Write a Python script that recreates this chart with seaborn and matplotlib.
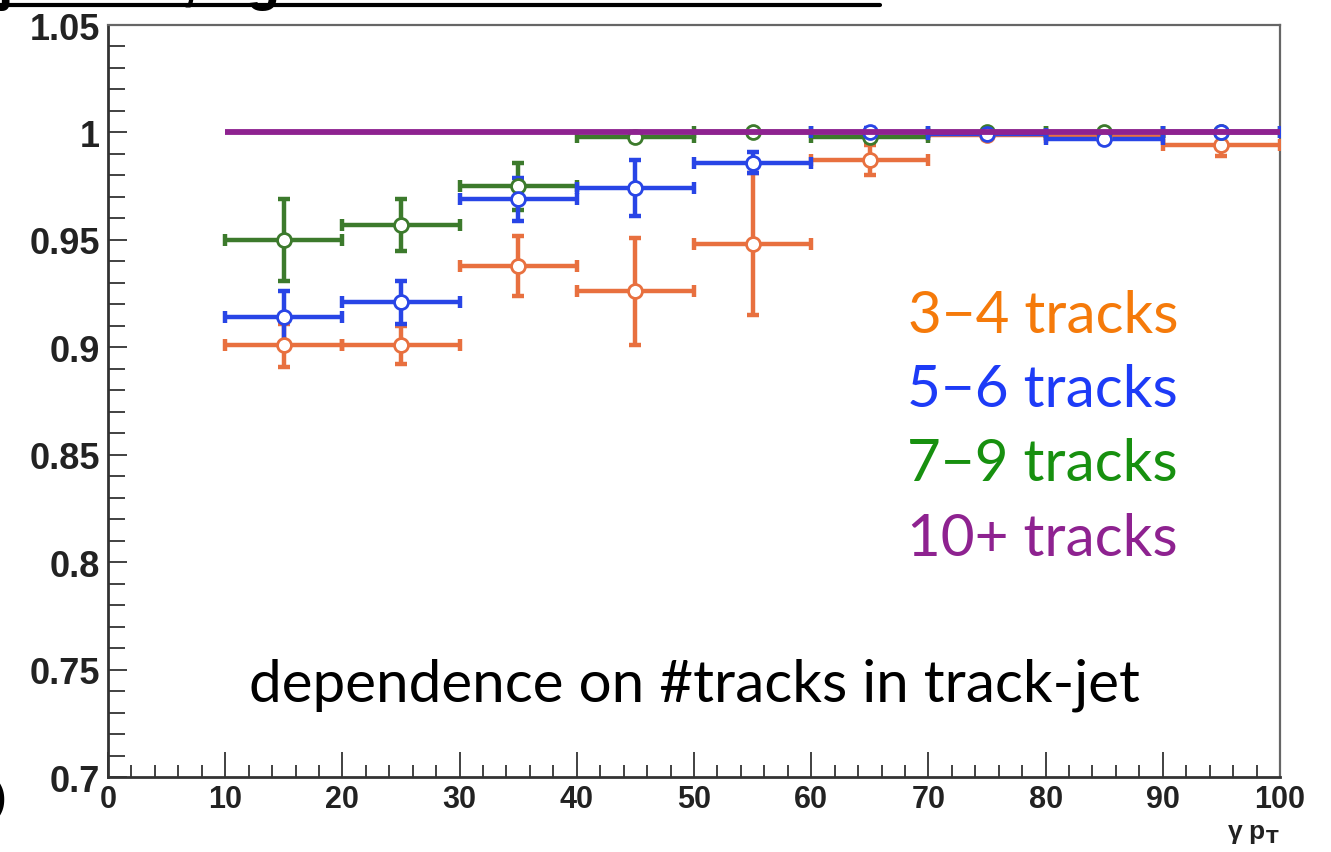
import numpy as np
import pandas as pd
import matplotlib
matplotlib.use("Agg")
import matplotlib.pyplot as plt
import seaborn as sns
from matplotlib.ticker import MultipleLocator, FixedLocator

# photon pT bin centres and half-widths (bins of 10 GeV)
pt_centers = [15, 25, 35, 45, 55, 65, 75, 85, 95]
pt_halfwidth = [5, 5, 5, 5, 5, 5, 5, 5, 5]

# efficiency vs photon pT for each track multiplicity class
eff_3_4 = [0.901, 0.901, 0.938, 0.926, 0.948, 0.987, 0.999, 0.998, 0.994]
err_3_4 = [0.010, 0.009, 0.014, 0.025, 0.033, 0.007, 0.002, 0.002, 0.005]

eff_5_6 = [0.914, 0.921, 0.969, 0.974, 0.986, 1.000, 0.9995, 0.997, 1.000]
err_5_6 = [0.012, 0.010, 0.010, 0.013, 0.005, 0.002, 0.001, 0.002, 0.001]

eff_7_9 = [0.950, 0.957, 0.975, 0.998, 1.000, 0.998, 1.000, 1.000, 1.000]
err_7_9 = [0.019, 0.012, 0.011, 0.002, 0.001, 0.002, 0.001, 0.001, 0.001]

eff_10p = [1.0, 1.0, 1.0, 1.0, 1.0, 1.0, 1.0, 1.0, 1.0]

series_labels = ["3\u22124 tracks", "5\u22126 tracks", "7\u22129 tracks", "10+ tracks"]
mark_colors = ["#E8703F", "#2845E6", "#3C7A2C", "#8E2290"]
text_colors = ["#F57A0A", "#1D3BF7", "#17900F", "#8E2290"]

y_ticks = [0.7, 0.75, 0.8, 0.85, 0.9, 0.95, 1.0, 1.05]
y_ticklabels = ["0.7", "0.75", "0.8", "0.85", "0.9", "0.95", "1", "1.05"]
x_ticks = [0, 10, 20, 30, 40, 50, 60, 70, 80, 90, 100]

sns.set_theme(style="white")
plt.rcParams["font.family"] = ["Liberation Sans", "DejaVu Sans"]

fig = plt.figure(figsize=(13.31, 8.53), dpi=100)
ax = fig.add_axes([108 / 1331, 1 - 778 / 853, (1280 - 108) / 1331, (778 - 26) / 853])

frames = []
for lab, eff, err in [(series_labels[0], eff_3_4, err_3_4),
                      (series_labels[1], eff_5_6, err_5_6),
                      (series_labels[2], eff_7_9, err_7_9)]:
    frames.append(pd.DataFrame({"pt": pt_centers, "eff": eff, "err": err,
                                "xerr": pt_halfwidth, "group": lab}))
df = pd.concat(frames, ignore_index=True)

order = [series_labels[0], series_labels[2], series_labels[1]]
for lab in order:
    d = df[df["group"] == lab]
    c = mark_colors[series_labels.index(lab)]
    ax.errorbar(d["pt"], d["eff"], yerr=d["err"], xerr=d["xerr"], fmt="none",
                ecolor=c, elinewidth=3.2, capsize=4, capthick=3.2, zorder=3)
    sns.scatterplot(x=d["pt"], y=d["eff"], ax=ax, marker="o", s=100,
                    facecolor="white", edgecolor=c, linewidth=2.0, zorder=4,
                    legend=False)

# highest multiplicity: flat at unity across the full range
ax.errorbar(pt_centers, eff_10p, xerr=pt_halfwidth, fmt="none",
            ecolor=mark_colors[3], elinewidth=4.2, capsize=0, zorder=5)

ax.set_xlim(0, 100)
ax.set_ylim(0.7, 1.05)
ax.set_xlabel("")
ax.set_ylabel("")

ax.xaxis.set_major_locator(FixedLocator(x_ticks))
ax.xaxis.set_minor_locator(MultipleLocator(2))
ax.yaxis.set_major_locator(FixedLocator(y_ticks))
ax.yaxis.set_minor_locator(MultipleLocator(0.01))
ax.set_yticklabels(y_ticklabels)
ax.set_xticklabels([str(v) for v in x_ticks])

ax.tick_params(axis="x", which="major", direction="in", length=18, width=1.3,
               color="#333333", bottom=True, top=False, labelsize=22, pad=5)
ax.tick_params(axis="x", which="minor", direction="in", length=9, width=1.3,
               color="#333333", bottom=True, top=False)
ax.tick_params(axis="y", which="major", direction="in", length=14, width=1.3,
               color="#333333", left=True, right=False, labelsize=26, pad=6)
ax.tick_params(axis="y", which="minor", direction="in", length=12, width=1.3,
               color="#333333", left=True, right=False)
for lbl in ax.get_xticklabels() + ax.get_yticklabels():
    lbl.set_fontweight("bold")
    lbl.set_color("#222222")

for side in ["left", "bottom"]:
    ax.spines[side].set_color("#333333")
    ax.spines[side].set_linewidth(2.0)
for side in ["top", "right"]:
    ax.spines[side].set_color("#666666")
    ax.spines[side].set_linewidth(1.6)

ax.text(1.0, -0.058, "\u03b3 p$_{\\mathbf{T}}$", transform=ax.transAxes,
        ha="right", va="top", fontsize=19, fontweight="bold", color="#222222")

# multiplicity key, right-aligned inside the frame
key_font = ["Lato", "DejaVu Sans"]
key_y = [317, 391, 465, 540]
for lab, col, ypx in zip(series_labels, text_colors, key_y):
    fig.text(1178 / 1331, 1 - ypx / 853, lab, ha="right", va="center",
             fontsize=42, color=col, family=key_font)

fig.text(694 / 1331, 1 - 685 / 853, "dependence on #tracks in track-jet",
         ha="center", va="center", fontsize=42, color="black", family=key_font)

# slide heading running off the top edge
fig.text(-2 / 1331, 1 + 1 / 853, "jet size, tighter match cut.", ha="left",
         va="baseline", fontsize=40, fontweight="bold", color="black",
         family=["Liberation Sans"])
fig.add_artist(plt.Line2D([0, 880 / 1331], [1 - 6 / 853, 1 - 6 / 853],
                          color="black", linewidth=3, transform=fig.transFigure))

# edge of a rotated axis caption at the far left
fig.text(-6 / 1331, 1 - 800 / 853, ")", ha="left", va="center",
         fontsize=26, fontweight="bold", color="black")

fig.savefig("out.png", dpi=100)
